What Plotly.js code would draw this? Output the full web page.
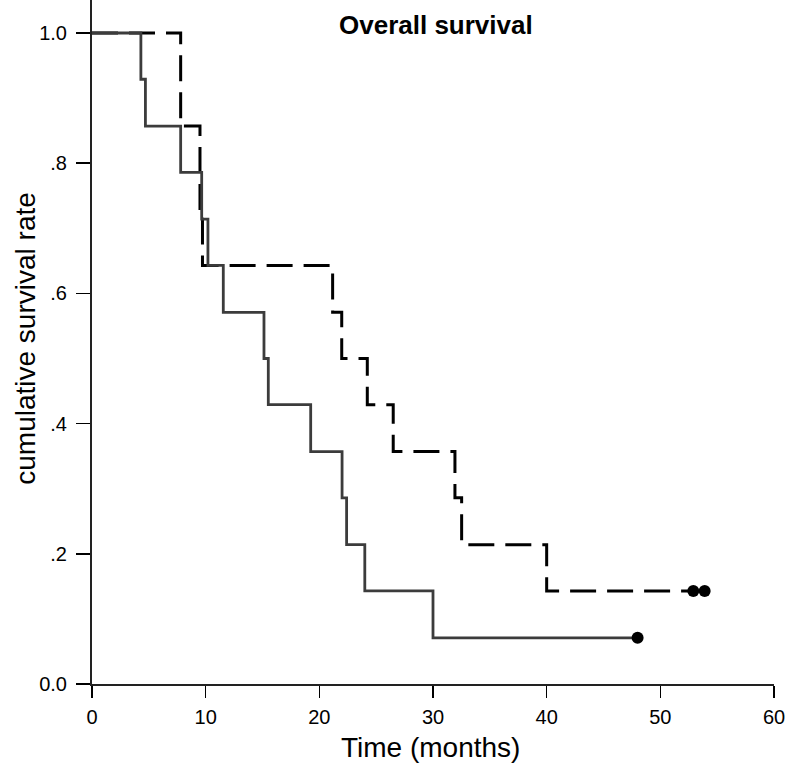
<!DOCTYPE html>
<html>
<head>
<meta charset="utf-8">
<script src="https://cdn.plot.ly/plotly-3.0.1.min.js"></script>
<style>html,body{margin:0;padding:0;background:#fff;}#chart{width:786px;height:769px;}</style>
</head>
<body>
<div id="chart"></div>
<script>
// Kaplan-Meier steps
const solidTimes = [0, 4.3, 4.7, 7.8, 9.65, 10.2, 11.55, 15.13, 15.51, 19.24, 22.0, 22.4, 24.0, 30.0, 48.0];
const solidSurv  = [1.0, 0.929, 0.857, 0.786, 0.714, 0.643, 0.571, 0.5, 0.429, 0.357, 0.286, 0.214, 0.143, 0.071, 0.071];
const solidCensorTimes = [48.0];
const solidCensorSurv  = [0.071];

const dashedTimes = [0, 7.8, 9.5, 9.72, 21.17, 21.97, 24.22, 26.5, 31.93, 32.52, 40.0, 52.9];
const dashedSurv  = [1.0, 0.857, 0.714, 0.643, 0.571, 0.5, 0.429, 0.357, 0.286, 0.214, 0.143, 0.143];
const dashedCensorTimes = [52.9, 53.9];
const dashedCensorSurv  = [0.143, 0.143];

const xTickVals = [0, 10, 20, 30, 40, 50, 60];
const yTickVals = [0, 0.2, 0.4, 0.6, 0.8, 1.0];
const yTickText = ["0.0", ".2", ".4", ".6", ".8", "1.0"];

const FONT = "Liberation Sans, Arial, Helvetica, sans-serif";

const traces = [
  {x: dashedTimes, y: dashedSurv, mode: 'lines', line: {shape: 'hv', color: '#000', width: 3, dash: '26px,11px'}, hoverinfo: 'skip'},
  {x: solidTimes, y: solidSurv, mode: 'lines', line: {shape: 'hv', color: '#3c3c3c', width: 2.8}, hoverinfo: 'skip'},
  {x: dashedCensorTimes, y: dashedCensorSurv, mode: 'markers', marker: {color: '#000', size: 12}, hoverinfo: 'skip'},
  {x: solidCensorTimes, y: solidCensorSurv, mode: 'markers', marker: {color: '#000', size: 12}, hoverinfo: 'skip'}
];

const layout = {
  width: 786, height: 769,
  margin: {l: 92, r: 12, t: 0, b: 85},
  paper_bgcolor: '#fff', plot_bgcolor: '#fff',
  showlegend: false,
  font: {family: FONT, color: '#000'},
  xaxis: {
    range: [0, 60], tickvals: xTickVals, ticks: 'outside', ticklen: 12, tickwidth: 1.5, tickcolor: '#000',
    showline: true, linecolor: '#222', linewidth: 2, showgrid: false, zeroline: false,
    tickfont: {size: 20, family: FONT}, ticklabelstandoff: 2
  },
  yaxis: {
    range: [0, 1.0507], tickvals: yTickVals, ticktext: yTickText, ticks: 'outside', ticklen: 14, tickwidth: 1.5, tickcolor: '#000',
    showline: true, linecolor: '#222', linewidth: 2, showgrid: false, zeroline: false,
    tickfont: {size: 20, family: FONT}, ticklabelstandoff: 5
  },
  annotations: [
    {text: '<b>Overall survival</b>', xref: 'paper', yref: 'paper', x: 0.505, y: 0.963, xanchor: 'center', yanchor: 'middle',
     showarrow: false, font: {size: 26, family: FONT, color: '#000'}},
    {text: 'Time (months)', xref: 'paper', yref: 'paper', x: 0.497, y: -0.093, xanchor: 'center', yanchor: 'middle',
     showarrow: false, font: {size: 28, family: FONT, color: '#000'}},
    {text: 'cumulative survival rate', xref: 'paper', yref: 'paper', x: -0.098, y: 0.505, xanchor: 'center', yanchor: 'middle',
     textangle: -90, showarrow: false, font: {size: 28, family: FONT, color: '#000'}}
  ]
};

Plotly.newPlot('chart', traces, layout, {staticPlot: true});
</script>
</body>
</html>
